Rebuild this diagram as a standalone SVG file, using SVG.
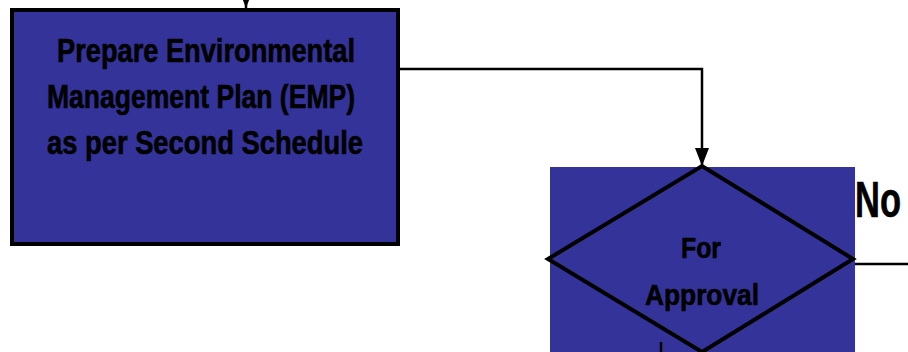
<svg xmlns="http://www.w3.org/2000/svg" width="908" height="352" viewBox="0 0 908 352">
  <style>
    .box { fill: #333399; stroke: #000; stroke-width: 4; }
    .bg { fill: #333399; }
    .dia { fill: none; stroke: #000; stroke-width: 4; stroke-linejoin: miter; }
    .lbl { font-family: "Liberation Sans", Arial, sans-serif; font-weight: bold; fill: #000; stroke: #000; stroke-width: 0.6; text-anchor: middle; }
    .conn { fill: none; stroke: #000; stroke-width: 2.5; }
  </style>
  <defs>
    <marker id="ah" viewBox="0 0 18 14" refX="18" refY="7" markerWidth="18" markerHeight="14" orient="auto" markerUnits="userSpaceOnUse">
      <path d="M0,0 L18,7 L0,14 z" fill="#000"/>
    </marker>
  </defs>
  <g id="emp">
    <rect class="box" x="12" y="10" width="386" height="234"/>
    <text class="lbl" x="206" y="62" font-size="34" textLength="298" lengthAdjust="spacingAndGlyphs">Prepare Environmental</text>
    <text class="lbl" x="201" y="108" font-size="34" textLength="308" lengthAdjust="spacingAndGlyphs">Management Plan (EMP)</text>
    <text class="lbl" x="205" y="154" font-size="34" textLength="316" lengthAdjust="spacingAndGlyphs">as per Second Schedule</text>
  </g>
  <g id="approval">
    <rect class="bg" x="550" y="167" width="305" height="185"/>
    <polygon class="dia" points="548,259 702,166 853,259 702,352"/>
    <text class="lbl" x="701" y="258" font-size="29" textLength="40" lengthAdjust="spacingAndGlyphs">For</text>
    <text class="lbl" x="702" y="305" font-size="29" textLength="114" lengthAdjust="spacingAndGlyphs">Approval</text>
  </g>
  <g id="no-label">
    <text class="lbl" x="878" y="217" font-size="50" textLength="46" lengthAdjust="spacingAndGlyphs">No</text>
  </g>
  <g id="connectors">
    <line class="conn" x1="246" y1="-40" x2="246" y2="8" marker-end="url(#ah)"/>
    <polyline class="conn" points="398,69 702,69 702,166" marker-end="url(#ah)"/>
    <line class="conn" x1="855" y1="264" x2="908" y2="264"/>
    <line class="conn" x1="661" y1="342" x2="661" y2="352"/>
  </g>
</svg>
